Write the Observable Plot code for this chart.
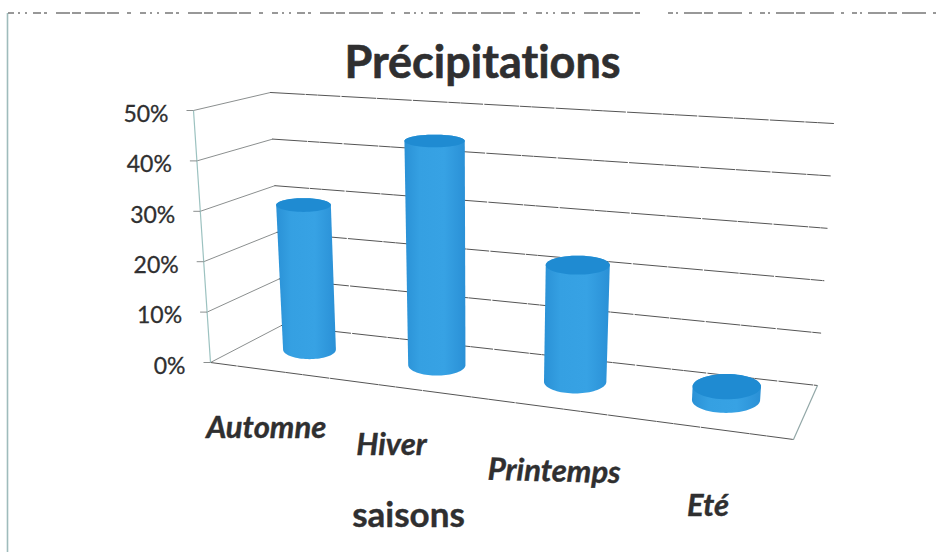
<!DOCTYPE html>
<html lang="fr">
<head>
<meta charset="utf-8">
<title>Précipitations</title>
<script src="https://cdn.jsdelivr.net/npm/d3@7"></script>
<script src="https://cdn.jsdelivr.net/npm/@observablehq/plot@0.6"></script>
<style>
  html, body { margin: 0; padding: 0; background: #fff; }
  svg { display: block; }
  svg text { font-variant-ligatures: none; }
</style>
</head>
<body>
<div id="chart"></div>
<script>
// Share of precipitation per season
const saisons = ["Automne", "Hiver", "Printemps", "Eté"];
const parts = [29.5, 44.5, 22.5, 2.5];
const graduations = [0, 10, 20, 30, 40, 50];
const etiquettesSaisons = [
  {dx: -7, dy: 57, rotate: 0},
  {dx: -15, dy: 57, rotate: 0},
  {dx: 3, dy: 64, rotate: 1.5},
  {dx: -1, dy: 78, rotate: 0}
];

// Corners of the 3D box on the page: [x, y] for (along, depth, value)
const box = {
  bottomFrontLeft: [210, 362], bottomBackLeft: [281, 325],
  bottomBackRight: [817, 385], bottomFrontRight: [793, 439],
  topFrontLeft: [193, 110], topBackLeft: [270, 92],
  topBackRight: [833, 123], topFrontRight: [817, 156]
};
const foreshortening = 0.185;
const valueMax = 50;

function mix(a, b, t) { return [a[0] + (b[0] - a[0]) * t, a[1] + (b[1] - a[1]) * t]; }

// Maps along (0..1), depth (0 front..1 back) and a percentage onto the page
function project(along, depth, value) {
  const u = along / (1 + foreshortening * (1 - along));
  const v = value / valueMax;
  const bottom = mix(mix(box.bottomFrontLeft, box.bottomFrontRight, u), mix(box.bottomBackLeft, box.bottomBackRight, u), depth);
  const top = mix(mix(box.topFrontLeft, box.topFrontRight, u), mix(box.topBackLeft, box.topBackRight, u), depth);
  const p = mix(bottom, top, v);
  return {x: p[0], y: p[1]};
}

// Cylinder outlines
const halfWidth = 0.054, halfDepth = 0.25, columnDepth = 0.55;
function ellipse(along, value) {
  const c = project(along, columnDepth, value);
  const rx = (project(along + halfWidth, columnDepth, value).x - project(along - halfWidth, columnDepth, value).x) / 2;
  const ry = (project(along, columnDepth - halfDepth, value).y - project(along, columnDepth + halfDepth, value).y) / 2;
  return {c, rx, ry};
}
function arc(e, from, to, n = 40) {
  return d3.range(n + 1).map(i => {
    const a = from + (to - from) * i / n;
    return {x: e.c.x + e.rx * Math.cos(a), y: e.c.y + e.ry * Math.sin(a)};
  });
}
const colonnes = saisons.map((nom, i) => ({nom, along: (i + 0.5) / saisons.length, part: parts[i]}));
const corps = colonnes.flatMap(d => {
  const top = ellipse(d.along, d.part), base = ellipse(d.along, 0);
  // round the far rim of the top, then down one side, round the base and back up
  return [...arc(top, 0, -Math.PI), ...arc(base, Math.PI, 0)].map(p => ({...p, nom: d.nom}));
});
const dessus = colonnes.flatMap(d => {
  const top = ellipse(d.along, d.part);
  return arc(top, 0, 2 * Math.PI, 60).map(p => ({...p, nom: d.nom}));
});

// Box edges and gridlines
const murGauche = graduations.flatMap(v => [project(0, 0, v), project(0, 1, v)].map(p => ({...p, v})));
const murFond = graduations.flatMap(v => [project(0, 1, v), project(1, 1, v)].map(p => ({...p, v})));
const bordAvant = [project(0, 0, 0), project(1, 0, 0)];
const bordDroit = [project(1, 0, 0), project(1, 1, 0)];
const arete = [project(0, 0, 0), project(0, 0, valueMax)];
const reperes = graduations.map(v => ({v, ...project(0, 0, v)}));
const piedsSaisons = colonnes.map((d, i) => ({nom: d.nom, ...project(d.along, 0, 0), ...etiquettesSaisons[i]}));

const police = "Lato, Carlito, sans-serif";
const encre = "#2f2f30";

const gradient = () => {
  const defs = d3.create("svg:defs");
  const g = defs.append("linearGradient").attr("id", "cylindre").attr("x1", 0).attr("x2", 1).attr("y1", 0).attr("y2", 0);
  [[0, "#2a91d6"], [0.25, "#35a0e2"], [0.65, "#37a2e4"], [1, "#2a90d6"]].forEach(([o, c]) =>
    g.append("stop").attr("offset", o).attr("stop-color", c));
  return defs.node();
};

const plot = Plot.plot({
  width: 940,
  height: 552,
  margin: 0,
  x: {type: "linear", domain: [0, 940], range: [0, 940], axis: null},
  y: {type: "linear", domain: [0, 552], range: [0, 552], axis: null},
  style: {background: "#fff", fontFamily: police},
  marks: [
    gradient,
    // Sheet edge and the clipped line of text at its top
    Plot.ruleX([7], {y1: 13, y2: 552, stroke: "#9fbcbc", strokeWidth: 1.6}),
    Plot.ruleY([12.5], {x1: 8, x2: 640, stroke: "#777", strokeWidth: 1.6, strokeDasharray: "6 4 2 5 2 6 8 3 3 9 14 2 9 4 20 2 12 8 4 9"}),
    Plot.ruleY([12.5], {x1: 668, x2: 940, stroke: "#777", strokeWidth: 1.6, strokeDasharray: "5 3 2 6 18 2 9 5 24 7 3 8"}),
    // Left wall, back wall, floor
    Plot.line(murGauche, {x: "x", y: "y", z: "v", stroke: "#8b8f8f", strokeWidth: 1}),
    Plot.line(murFond, {x: "x", y: "y", z: "v", stroke: "#555", strokeWidth: 1, strokeDasharray: "34 1.5 11 1 22 2"}),
    Plot.line(bordAvant, {x: "x", y: "y", stroke: "#555", strokeWidth: 1, strokeDasharray: "26 1.5 48 1 16 1"}),
    Plot.line(bordDroit, {x: "x", y: "y", stroke: "#93a8a8", strokeWidth: 1.2}),
    Plot.line(arete, {x: "x", y: "y", stroke: "#9cc2c0", strokeWidth: 1.2}),
    Plot.link(reperes, {x1: d => d.x - 7, y1: "y", x2: "x", y2: "y", stroke: "#8b8f8f", strokeWidth: 1}),
    // Cylinders
    Plot.line(corps, {x: "x", y: "y", z: "nom", curve: "linear-closed", fill: "url(#cylindre)", stroke: "none"}),
    Plot.line(dessus, {x: "x", y: "y", z: "nom", curve: "linear-closed", fill: "#1f8bd2", stroke: "none"}),
    // Axis labels
    Plot.text(reperes, {x: "x", y: "y", text: d => `${d.v}%`, textAnchor: "end", dx: -25, dy: 4, fontSize: 23, fill: encre, stroke: encre, strokeWidth: 0.3}),
    Plot.text(piedsSaisons, {x: d => d.x + d.dx, y: d => d.y + d.dy, text: "nom", rotate: "rotate", fontSize: 31, fontWeight: 700, fontStyle: "italic", fill: encre, stroke: encre, strokeWidth: 0.4}),
    // Titles
    Plot.text(["Précipitations"], {x: 482, y: 63, fontSize: 45, fontWeight: 700, fill: encre, stroke: encre, strokeWidth: 0.6}),
    Plot.text(["saisons"], {x: 408, y: 515, fontSize: 35, fontWeight: 700, fill: encre, stroke: encre, strokeWidth: 0.4})
  ]
});
document.getElementById("chart").append(plot);
</script>
</body>
</html>
